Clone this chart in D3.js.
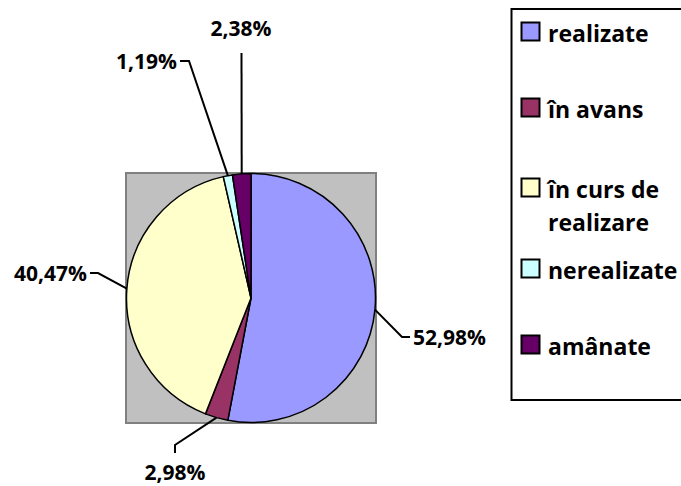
<!DOCTYPE html>
<html>
<head>
<meta charset="utf-8">
<script src="https://cdn.jsdelivr.net/npm/d3@7"></script>
<style>
  html, body { margin: 0; padding: 0; background: #fff; }
  svg { display: block; }
  text { font-family: "Open Sans", "Noto Sans", sans-serif; font-weight: 700; fill: #000; }
</style>
</head>
<body>
<svg id="chart" width="681" height="486"></svg>
<script>
// ---- data ----
const categories = ["realizate", "în avans", "în curs de realizare", "nerealizate", "amânate"];
const legendLines = [["realizate"], ["în avans"], ["în curs de", "realizare"], ["nerealizate"], ["amânate"]];
const values = [52.98, 2.98, 40.47, 1.19, 2.38];
const valueLabels = ["52,98%", "2,98%", "40,47%", "1,19%", "2,38%"];
const colors = ["#9999FF", "#993366", "#FFFFCC", "#CCFFFF", "#660066"];

// ---- layout ----
const W = 681, H = 486;
const plot = { x: 126, y: 173, w: 250, h: 250 };
const cx = plot.x + plot.w / 2, cy = plot.y + plot.h / 2;
const R = 124.5;

// leader elbows / label anchors (layout, relative to page)
const leaders = [
  { pts: [[402, 337], [410, 337]], tx: 413, ty: 345, anchor: "start" },
  { pts: [[175, 445], [175, 453]], tx: 175, ty: 480, anchor: "middle" },
  { pts: [[98, 273], [90, 273]], tx: 87, ty: 281, anchor: "end" },
  { pts: [[189, 61], [180, 61]], tx: 177, ty: 69, anchor: "end" },
  { pts: [[241.5, 53]], tx: 241, ty: 36, anchor: "middle" }
];

const svg = d3.select("#chart");

// plot area
svg.append("rect")
  .attr("x", plot.x).attr("y", plot.y).attr("width", plot.w).attr("height", plot.h)
  .attr("fill", "#C0C0C0").attr("stroke", "#808080").attr("stroke-width", 2);

const pie = d3.pie().sort(null).value(d => d);
const arcs = pie(values);
const arc = d3.arc().innerRadius(0).outerRadius(R);

const g = svg.append("g").attr("transform", `translate(${cx},${cy})`);
g.selectAll("path.slice").data(arcs).join("path")
  .attr("class", "slice")
  .attr("d", arc)
  .attr("fill", (d, i) => colors[i])
  .attr("stroke", "#000").attr("stroke-width", 1.5).attr("stroke-linejoin", "round");

// leader lines + labels
arcs.forEach((a, i) => {
  const mid = (a.startAngle + a.endAngle) / 2;
  const sx = cx + R * Math.sin(mid), sy = cy - R * Math.cos(mid);
  const L = leaders[i];
  const pts = [[sx, sy]].concat(L.pts);
  svg.append("path")
    .attr("d", d3.line()(pts))
    .attr("fill", "none").attr("stroke", "#000").attr("stroke-width", 2);
  svg.append("text")
    .attr("x", L.tx).attr("y", L.ty)
    .attr("text-anchor", L.anchor)
    .attr("font-size", 21)
    .text(valueLabels[i]);
});

// legend
svg.append("rect")
  .attr("x", 511.5).attr("y", 9).attr("width", 200).attr("height", 391)
  .attr("fill", "#fff").attr("stroke", "#000").attr("stroke-width", 2);

const legendBaselines = [42, 118, 198, 279, 355];
const lineGap = 33;
categories.forEach((c, i) => {
  const by = legendBaselines[i];
  svg.append("rect")
    .attr("x", 521.5).attr("y", by - 19.5).attr("width", 18).attr("height", 18)
    .attr("fill", colors[i]).attr("stroke", "#000").attr("stroke-width", 2);
  legendLines[i].forEach((ln, j) => {
    svg.append("text")
      .attr("x", 548).attr("y", by + j * lineGap)
      .attr("font-size", 23)
      .text(ln);
  });
});
</script>
</body>
</html>
